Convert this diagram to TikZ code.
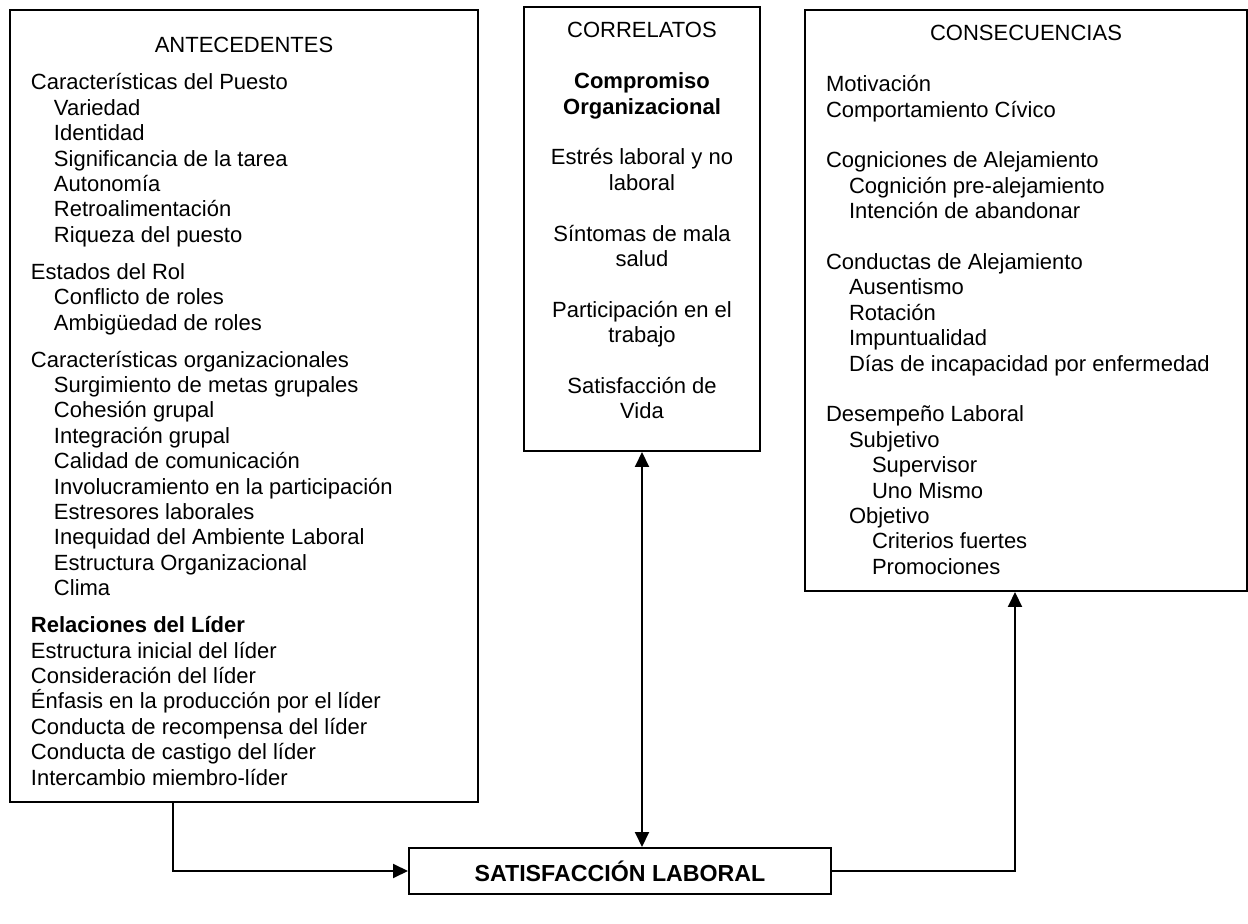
\documentclass[tikz,border=0pt]{standalone}
\usepackage{fontspec}
\setmainfont{Liberation Sans}
\usetikzlibrary{arrows.meta}

\newcommand{\ind}{\hspace*{11.5pt}}

\begin{document}
\begin{tikzpicture}[x=0.5pt, y=-0.5pt,
  panel/.style={draw, line width=1pt, anchor=north west, inner xsep=10.5pt,
                inner ysep=0pt, font=\fontsize{11}{12.7}\selectfont},
  midpanel/.style={panel, inner xsep=5pt},
  mainbox/.style={draw, line width=1pt, minimum width=211pt, minimum height=23pt,
                  inner sep=0pt, font=\fontsize{11.6}{14}\selectfont\bfseries},
  arr/.style={-{Triangle[length=7.5pt, width=7pt]}, line width=1pt},
  biarr/.style={{Triangle[length=7.5pt, width=7pt]}-{Triangle[length=7.5pt, width=7pt]},
                line width=1pt}
]
\useasboundingbox (0,0) rectangle (1248,924);
\node[panel] (ante) at (9,9) {\parbox[c][396pt][t]{213pt}{%
  \rule{0pt}{21.5pt}\makebox[213pt]{ANTECEDENTES}\\[5.8pt]
  Características del Puesto\\
  \ind Variedad\\
  \ind Identidad\\
  \ind Significancia de la tarea\\
  \ind Autonomía\\
  \ind Retroalimentación\\
  \ind Riqueza del puesto\\[5.8pt]
  Estados del Rol\\
  \ind Conflicto de roles\\
  \ind Ambigüedad de roles\\[5.8pt]
  Características organizacionales\\
  \ind Surgimiento de metas grupales\\
  \ind Cohesión grupal\\
  \ind Integración grupal\\
  \ind Calidad de comunicación\\
  \ind Involucramiento en la participación\\
  \ind Estresores laborales\\
  \ind Inequidad del Ambiente Laboral\\
  \ind Estructura Organizacional\\
  \ind Clima\\[5.8pt]
  \textbf{Relaciones del Líder}\\
  Estructura inicial del líder\\
  Consideración del líder\\
  Énfasis en la producción por el líder\\
  Conducta de recompensa del líder\\
  Conducta de castigo del líder\\
  Intercambio miembro-líder}};
\node[midpanel] (corr) at (523,6) {\parbox[c][222pt][t]{108pt}{\centering
  \rule{0pt}{15.5pt}CORRELATOS\\[12.7pt]
  \textbf{Compromiso\\Organizacional}\\[12.7pt]
  Estrés laboral y no\\laboral\\[12.7pt]
  Síntomas de mala\\salud\\[12.7pt]
  Participación en el\\trabajo\\[12.7pt]
  Satisfacción de\\Vida}};
\node[panel] (cons) at (804,9) {\parbox[c][290.5pt][t]{200pt}{%
  \rule{0pt}{15.5pt}\makebox[200pt]{CONSECUENCIAS}\\[12.7pt]
  Motivación\\
  Comportamiento Cívico\\[12.7pt]
  Cogniciones de Alejamiento\\
  \ind Cognición pre-alejamiento\\
  \ind Intención de abandonar\\[12.7pt]
  Conductas de Alejamiento\\
  \ind Ausentismo\\
  \ind Rotación\\
  \ind Impuntualidad\\
  \ind Días de incapacidad por enfermedad\\[12.7pt]
  Desempeño Laboral\\
  \ind Subjetivo\\
  \ind\ind Supervisor\\
  \ind\ind Uno Mismo\\
  \ind Objetivo\\
  \ind\ind Criterios fuertes\\
  \ind\ind Promociones}};
\node[mainbox] (sat) at (620,871) {SATISFACCIÓN LABORAL};
\draw[arr] ([xshift=82pt]ante.south west) |- (sat.west);
\draw[biarr] (corr.south) -- (corr.south |- sat.north);
\draw[arr] (sat.east) -| ([xshift=-5.5pt]cons.south);
\end{tikzpicture}
\end{document}
